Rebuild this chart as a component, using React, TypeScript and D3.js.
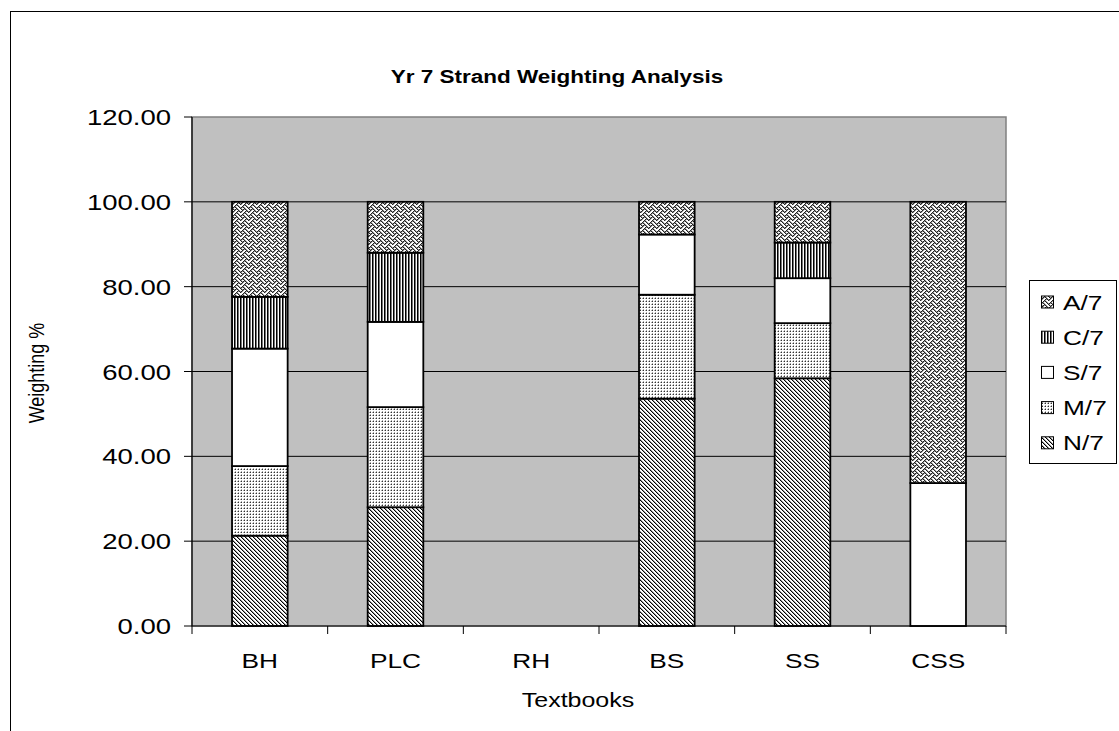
import React from "react";
import * as d3 from "d3";

const categories = ["BH", "PLC", "RH", "BS", "SS", "CSS"];
const seriesNames = ["N/7", "M/7", "S/7", "C/7", "A/7"];
const N7 = [21.3, 28.0, 0, 53.6, 58.4, 0];
const M7 = [16.4, 23.6, 0, 24.5, 13.0, 0];
const S7 = [27.7, 20.1, 0, 14.2, 10.6, 33.7];
const C7 = [12.2, 16.3, 0, 0, 8.4, 0];
const A7 = [22.4, 12.0, 0, 7.7, 9.6, 66.3];
const yTicks = [0, 20, 40, 60, 80, 100, 120];

const seriesValues = [N7, M7, S7, C7, A7];
const patternIds = ["pN", "pM", "pS", "pC", "pA"];

const FONT = "'Liberation Sans', Arial, sans-serif";
const SX = 1.25;

const weaveRows = [
  "10001000",
  "01010100",
  "00100010",
  "01000101",
  "10001000",
  "00010100",
  "00100010",
  "01010001",
];

function Txt(props: any) {
  const { x, y, children, anchor = "start", size = 21, weight = "normal", rotate = 0 } = props;
  const tf = rotate
    ? `translate(${x},${y}) rotate(${rotate}) scale(1,${SX})`
    : `translate(${x},${y}) scale(${SX},1)`;
  return (
    <text transform={tf} textAnchor={anchor} fontFamily={FONT} fontSize={size} fontWeight={weight} fill="#000">
      {children}
    </text>
  );
}

export default function App() {
  const W = 1119, H = 731;
  const plotL = 192, plotR = 1006, plotT = 117, plotB = 626;

  const x = d3.scaleBand<string>().domain(categories).range([plotL, plotR]).padding(0);
  const y = d3.scaleLinear().domain([0, 120]).range([plotB, plotT]);
  const barW = x.bandwidth() * 0.41;

  const table = categories.map((c, i) => {
    const row: any = { cat: c };
    seriesNames.forEach((s, k) => (row[s] = seriesValues[k][i]));
    return row;
  });
  const stacked = d3.stack<any>().keys(seriesNames)(table);

  const boundaries = categories.map((c) => x(c) as number).concat([plotR]);

  const legendX = 1029, legendY = 280, legendW = 87, legendH = 183;
  const legendRowY = (k: number) => 302 + k * 35.2;
  const legendOrder = [...seriesNames].reverse();

  return (
    <svg width={W} height={H} style={{ position: "absolute", left: 0, top: 0, background: "#fff" }}>
      <defs>
        <pattern id="pN" width={4} height={4} patternUnits="userSpaceOnUse">
          <rect width={4} height={4} fill="#fff" />
          {[0, 1, 2, 3].map((r) => (
            <g key={r}>
              <rect x={r} y={r} width={1} height={1} fill="#000" />
              <rect x={(r + 1) % 4} y={r} width={1} height={1} fill="#999" />
            </g>
          ))}
        </pattern>
        <pattern id="pM" width={3} height={3} patternUnits="userSpaceOnUse">
          <rect width={3} height={3} fill="#fff" />
          <rect x={1} y={1} width={1} height={1} fill="#333" />
          <rect x={0} y={1} width={1} height={1} fill="#aaa" />
          <rect x={1} y={0} width={1} height={1} fill="#aaa" />
        </pattern>
        <pattern id="pS" width={4} height={4} patternUnits="userSpaceOnUse">
          <rect width={4} height={4} fill="#fff" />
        </pattern>
        <pattern id="pC" width={3} height={3} patternUnits="userSpaceOnUse">
          <rect width={3} height={3} fill="#fff" />
          <rect x={0} y={0} width={1} height={3} fill="#000" />
          <rect x={1} y={0} width={1} height={3} fill="#777" />
        </pattern>
        <pattern id="pA" width={8} height={8} patternUnits="userSpaceOnUse">
          <rect width={8} height={8} fill="#fff" />
          {weaveRows.map((row, r) =>
            row.split("").map((b, c) =>
              b === "1" ? <rect key={`${r}-${c}`} x={c} y={r} width={1} height={1} fill="#222" /> : null
            )
          )}
          {weaveRows.map((row, r) =>
            row.split("").map((b, c) =>
              b === "1" ? <rect key={`g${r}-${c}`} x={(c + 1) % 8} y={r} width={1} height={1} fill="#999" /> : null
            )
          )}
        </pattern>
      </defs>

      {/* outer chart frame */}
      <rect x={10.5} y={11.5} width={1200} height={800} fill="none" stroke="#000" strokeWidth={1} />

      {/* title */}
      <Txt x={557} y={83} anchor="middle" size={18} weight="bold">Yr 7 Strand Weighting Analysis</Txt>

      {/* plot area */}
      <rect x={plotL} y={plotT} width={plotR - plotL} height={plotB - plotT} fill="#C0C0C0" stroke="#808080" strokeWidth={1.5} />

      {/* gridlines */}
      {yTicks.filter((t) => t > 0 && t < 120).map((t) => (
        <line key={t} x1={plotL} x2={plotR} y1={y(t)} y2={y(t)} stroke="#000" strokeWidth={1} />
      ))}

      {/* bars */}
      {stacked.map((layer, k) => (
        <g key={layer.key}>
          {layer.map((d, i) => {
            const h = y(d[0]) - y(d[1]);
            if (h <= 0.01) return null;
            const cx = (x(categories[i]) as number) + x.bandwidth() / 2;
            return (
              <rect
                key={i}
                x={cx - barW / 2}
                y={y(d[1])}
                width={barW}
                height={h}
                fill={`url(#${patternIds[k]})`}
                stroke="#000"
                strokeWidth={1.8}
              />
            );
          })}
        </g>
      ))}

      {/* axes */}
      <line x1={plotL} x2={plotL} y1={plotT} y2={plotB} stroke="#000" strokeWidth={1.2} />
      <line x1={plotL} x2={plotR} y1={plotB} y2={plotB} stroke="#000" strokeWidth={1.2} />
      {yTicks.map((t) => (
        <g key={t}>
          <line x1={plotL - 8} x2={plotL} y1={y(t)} y2={y(t)} stroke="#000" strokeWidth={1} />
          <Txt x={171} y={y(t) + 8} anchor="end" size={22}>{d3.format(".2f")(t)}</Txt>
        </g>
      ))}
      {boundaries.map((bx, i) => (
        <line key={i} x1={bx} x2={bx} y1={plotB} y2={plotB + 8} stroke="#000" strokeWidth={1} />
      ))}
      {categories.map((c) => (
        <Txt key={c} x={(x(c) as number) + x.bandwidth() / 2} y={668} anchor="middle" size={21}>{c}</Txt>
      ))}

      {/* axis titles */}
      <Txt x={578} y={707} anchor="middle" size={20}>Textbooks</Txt>
      <Txt x={44} y={373} anchor="middle" size={18} rotate={-90}>Weighting %</Txt>

      {/* legend */}
      <rect x={legendX + 0.5} y={legendY + 0.5} width={legendW} height={legendH} fill="#fff" stroke="#000" strokeWidth={1} />
      {legendOrder.map((s, k) => {
        const idx = seriesNames.indexOf(s);
        const cy = legendRowY(k);
        return (
          <g key={s}>
            <rect x={1041.5} y={cy - 6} width={12} height={12} fill={`url(#${patternIds[idx]})`} stroke="#000" strokeWidth={1} />
            <Txt x={1063} y={cy + 7.5} size={21}>{s}</Txt>
          </g>
        );
      })}
    </svg>
  );
}
